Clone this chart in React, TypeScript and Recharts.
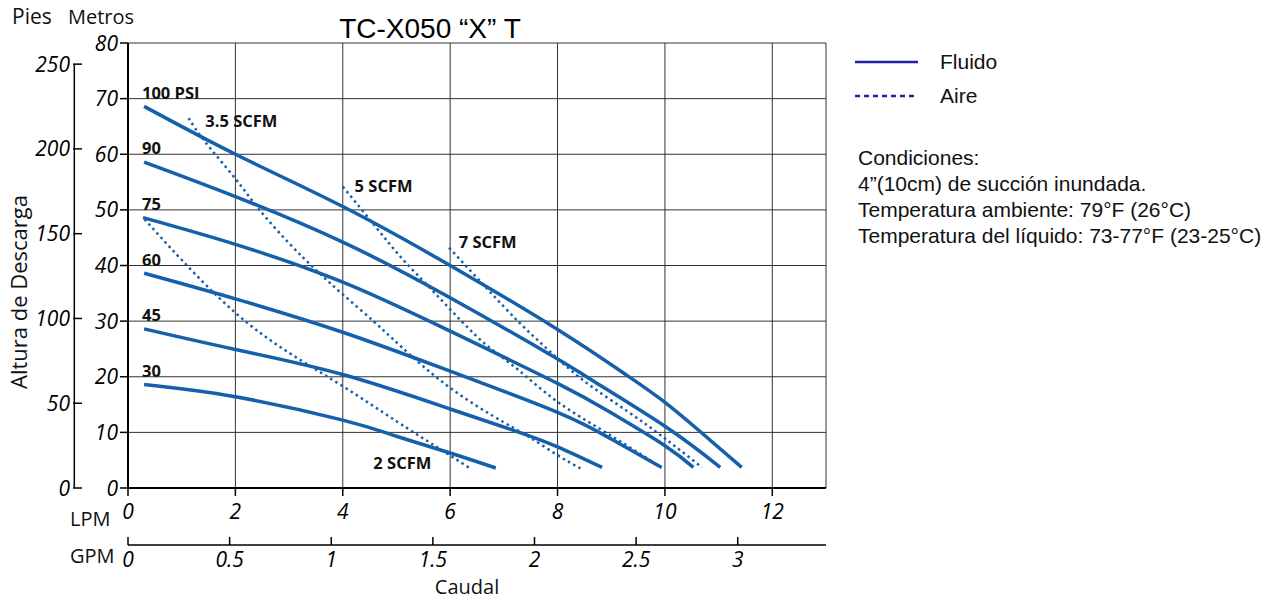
import React from 'react';
import {
  LineChart,
  Line,
  XAxis,
  YAxis,
  CartesianGrid,
  ReferenceLine,
  ReferenceDot,
} from 'recharts';

// axes
const lpmTicks = [0, 2, 4, 6, 8, 10, 12, 13];
const gpmTicks = [0, 0.5, 1, 1.5, 2, 2.5, 3];
const metroTicks = [0, 10, 20, 30, 40, 50, 60, 70, 80];
const pieTicks = [0, 50, 100, 150, 200, 250];
const LPM_MAX = 13;
const M_MAX = 80;
const LPM_PER_GPM = 3.78541;
const FT_PER_M = 3.28084;

// fluid curves (x = LPM, y = metros)
const psiNames = ['100 PSI', '90', '75', '60', '45', '30'];
const psi100X = [0.3, 2, 4, 6, 8, 9.3, 10, 10.65, 11.43];
const psi100Y = [68.6, 60, 50.6, 40, 28.5, 20.2, 15.4, 10.2, 3.7];
const psi90X = [0.3, 2, 4, 6, 8, 8.62, 10, 11.03];
const psi90Y = [58.6, 52.4, 44.2, 34.2, 23.2, 19.5, 11.1, 3.7];
const psi75X = [0.28, 2, 4, 6, 8, 9, 10, 10.53];
const psi75Y = [48.6, 43.8, 37.0, 28.2, 18.8, 13.5, 7.6, 3.7];
const psi60X = [0.3, 2, 4, 6, 8, 9, 9.94];
const psi60Y = [38.6, 34.0, 28.0, 21.0, 13.6, 8.8, 3.7];
const psi45X = [0.3, 2, 4, 6, 7.26, 8, 8.83];
const psi45Y = [28.6, 24.9, 20.4, 14.2, 10.1, 7.4, 3.7];
const psi30X = [0.3, 2, 4, 5, 6, 6.85];
const psi30Y = [18.6, 16.4, 12.2, 9.3, 6.3, 3.6];

// air curves
const scfmNames = ['2 SCFM', '3.5 SCFM', '5 SCFM', '7 SCFM'];
const scfm2X = [0.31, 1, 2, 3, 4, 5, 5.65, 6.36];
const scfm2Y = [48.3, 41, 31.5, 24.3, 18.3, 12, 8, 3.6];
const scfm35X = [1.13, 1.43, 2, 2.44, 3, 3.5, 4, 4.57, 5.1, 6, 7, 7.5, 8, 8.43];
const scfm35Y = [66.5, 62.3, 55.6, 50.1, 44, 39.2, 34.8, 30, 25.3, 18, 11.8, 9, 5.9, 3.5];
const scfm5X = [4, 4.6, 5.1, 5.65, 6.21, 6.7, 7.26, 8, 8.93, 9.9];
const scfm5Y = [54.2, 47.1, 41.3, 35.7, 30, 25.5, 21.3, 15.5, 9.8, 3.9];
const scfm7X = [5.98, 6.7, 7.26, 7.75, 8.46, 9.3, 10, 10.69];
const scfm7Y = [43.2, 35.7, 30, 25.5, 19.5, 13.8, 8.9, 3.7];

const condiciones = [
  'Condiciones:',
  '4\u201d(10cm) de succi\u00f3n inundada.',
  'Temperatura ambiente: 79\u00b0F (26\u00b0C)',
  'Temperatura del l\u00edquido: 73-77\u00b0F (23-25\u00b0C)',
];

const toPoints = (xs: number[], ys: number[]) => xs.map((x, i) => ({ x, y: ys[i] }));

const fluido = [
  toPoints(psi100X, psi100Y),
  toPoints(psi90X, psi90Y),
  toPoints(psi75X, psi75Y),
  toPoints(psi60X, psi60Y),
  toPoints(psi45X, psi45Y),
  toPoints(psi30X, psi30Y),
];
const aire = [
  toPoints(scfm2X, scfm2Y),
  toPoints(scfm35X, scfm35Y),
  toPoints(scfm5X, scfm5Y),
  toPoints(scfm7X, scfm7Y),
];

// where the curve names sit (left edge, baseline)
const psiLabelAt = [
  [0.26, 70],
  [0.26, 60],
  [0.26, 50],
  [0.26, 40],
  [0.26, 30],
  [0.26, 20],
];
const scfmLabelAt = [
  [4.57, 3.4],
  [1.44, 64.9],
  [4.22, 53.2],
  [6.16, 43.1],
];

// axis ids: 0 sits next to the plot, 1 outside it
const LPM = 0;
const GPM = 1;
const MET = 0;
const PIES = 1;

const BLUE = '#1560aa';
const LEGEND_BLUE = '#1f22a3';
const SANS = '"Open Sans", sans-serif';
const HELV = '"Liberation Sans", Arial, sans-serif';

const tickFont = { fontFamily: SANS, fontStyle: 'italic', fontSize: 21, fill: '#000' };

const LpmTick = (props: any) => {
  const { x, y, payload } = props;
  if (payload.value === LPM_MAX) return <g />;
  return (
    <g>
      <line x1={x} y1={y} x2={x} y2={y + 8} stroke="#000" strokeWidth={1.5} />
      <text x={x} y={y + 31} textAnchor="middle" style={tickFont}>
        {payload.value}
      </text>
    </g>
  );
};

const GpmTick = (props: any) => {
  const { x, y, payload } = props;
  return (
    <g>
      <line x1={x} y1={y} x2={x} y2={y - 8} stroke="#000" strokeWidth={1.5} />
      <text x={x} y={y + 22} textAnchor="middle" style={tickFont}>
        {payload.value}
      </text>
    </g>
  );
};

const MetroTick = (props: any) => {
  const { x, y, payload } = props;
  return (
    <g>
      <line x1={x - 8} y1={y} x2={x} y2={y} stroke="#000" strokeWidth={1.5} />
      <text x={x - 10} y={y} dy="0.36em" textAnchor="end" style={tickFont}>
        {payload.value}
      </text>
    </g>
  );
};

const PieTick = (props: any) => {
  const { x, y, payload } = props;
  return (
    <g>
      <line x1={x - 1} y1={y} x2={x + 8} y2={y} stroke="#000" strokeWidth={1.5} />
      <text x={x - 4} y={y} dy="0.36em" textAnchor="end" style={tickFont}>
        {payload.value}
      </text>
    </g>
  );
};

const curveLabel = (text: string) => (p: any) => (
  <text
    x={p.cx}
    y={p.cy}
    textAnchor="start"
    style={{ fontFamily: SANS, fontWeight: 700, fontSize: 16.5, fill: '#111' }}
  >
    {text}
  </text>
);

export default function App() {
  return (
    <div style={{ position: 'fixed', left: 0, top: 0, width: 1282, height: 599, background: '#fff' }}>
      <LineChart width={1282} height={599} margin={{ top: 43, right: 456, bottom: 0, left: 14 }}>
        <CartesianGrid xAxisId={LPM} yAxisId={MET} stroke="#333" strokeWidth={1} />
        <XAxis
          xAxisId={LPM}
          type="number"
          dataKey="x"
          domain={[0, LPM_MAX]}
          ticks={lpmTicks}
          interval={0}
          allowDataOverflow
          height={57}
          tickSize={0}
          tickMargin={0}
          tickLine={false}
          axisLine={{ stroke: '#000', strokeWidth: 2 }}
          tick={<LpmTick />}
        />
        <XAxis
          xAxisId={GPM}
          type="number"
          dataKey="x"
          domain={[0, LPM_MAX / LPM_PER_GPM]}
          ticks={gpmTicks}
          interval={0}
          allowDataOverflow
          height={54}
          tickSize={0}
          tickMargin={0}
          tickLine={false}
          axisLine={{ stroke: '#000', strokeWidth: 1.5 }}
          tick={<GpmTick />}
        />
        <YAxis
          yAxisId={MET}
          type="number"
          domain={[0, M_MAX]}
          ticks={metroTicks}
          interval={0}
          allowDataOverflow
          width={54}
          tickSize={0}
          tickMargin={0}
          tickLine={false}
          axisLine={{ stroke: '#000', strokeWidth: 2 }}
          tick={<MetroTick />}
        />
        <YAxis
          yAxisId={PIES}
          type="number"
          domain={[0, M_MAX * FT_PER_M]}
          ticks={pieTicks}
          interval={0}
          allowDataOverflow
          width={60}
          tickSize={0}
          tickMargin={0}
          tickLine={false}
          axisLine={false}
          tick={<PieTick />}
        />
        <ReferenceLine
          xAxisId={LPM}
          yAxisId={PIES}
          segment={[
            { x: -1, y: 0 },
            { x: -1, y: 250 },
          ]}
          ifOverflow="visible"
          stroke="#000"
          strokeWidth={1.5}
        />
        {aire.map((pts, i) => (
          <Line
            key={scfmNames[i]}
            xAxisId={LPM}
            yAxisId={MET}
            data={pts}
            dataKey="y"
            type="natural"
            stroke={BLUE}
            strokeWidth={2.5}
            strokeDasharray="2.5 3.5"
            dot={false}
            isAnimationActive={false}
          />
        ))}
        {fluido.map((pts, i) => (
          <Line
            key={psiNames[i]}
            xAxisId={LPM}
            yAxisId={MET}
            data={pts}
            dataKey="y"
            type="natural"
            stroke={BLUE}
            strokeWidth={3.5}
            dot={false}
            isAnimationActive={false}
          />
        ))}
        {psiNames.map((name, i) => (
          <ReferenceDot
            key={'l' + name}
            xAxisId={LPM}
            yAxisId={MET}
            x={psiLabelAt[i][0]}
            y={psiLabelAt[i][1]}
            r={0}
            ifOverflow="visible"
            shape={curveLabel(name)}
          />
        ))}
        {scfmNames.map((name, i) => (
          <ReferenceDot
            key={'l' + name}
            xAxisId={LPM}
            yAxisId={MET}
            x={scfmLabelAt[i][0]}
            y={scfmLabelAt[i][1]}
            r={0}
            ifOverflow="visible"
            shape={curveLabel(name)}
          />
        ))}
      </LineChart>

      <svg
        width={1282}
        height={599}
        style={{ position: 'absolute', left: 0, top: 0, pointerEvents: 'none' }}
      >
        <g style={{ fontFamily: SANS, fontSize: 20, fill: '#111' }}>
          <text x={12} y={24} style={{ fontSize: 21 }}>Pies</text>
          <text x={68} y={24}>Metros</text>
          <text x={70} y={526}>LPM</text>
          <text x={70} y={563}>GPM</text>
          <text x={467} y={594} textAnchor="middle">Caudal</text>
          <text
            x={27}
            y={292}
            textAnchor="middle"
            transform="rotate(-90 27 292)"
            style={{ fontSize: 22 }}
          >
            Altura de Descarga
          </text>
        </g>
        <text
          x={430}
          y={38}
          textAnchor="middle"
          style={{ fontFamily: HELV, fontSize: 28, fill: '#000' }}
        >
          TC-X050 {'\u201cX\u201d'} T
        </text>
        <line x1={855} y1={62} x2={918} y2={62} stroke={LEGEND_BLUE} strokeWidth={2.5} />
        <line
          x1={855}
          y1={96}
          x2={918}
          y2={96}
          stroke={LEGEND_BLUE}
          strokeWidth={2.5}
          strokeDasharray="5 4"
        />
        <g style={{ fontFamily: HELV, fontSize: 21, fill: '#111' }}>
          <text x={940} y={69}>Fluido</text>
          <text x={940} y={103}>Aire</text>
          {condiciones.map((t, i) => (
            <text key={t} x={858} y={165 + i * 26}>
              {t}
            </text>
          ))}
        </g>
      </svg>
    </div>
  );
}
